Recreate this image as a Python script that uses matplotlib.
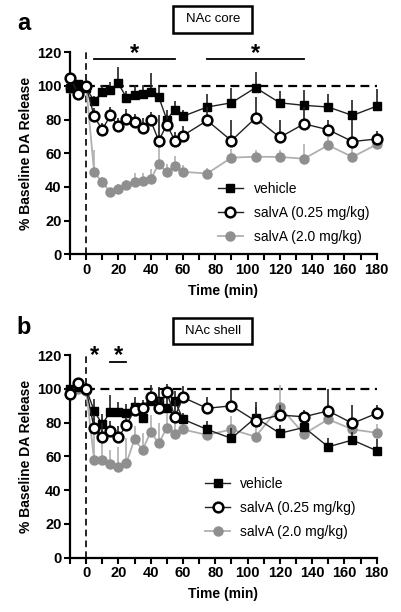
import numpy as np
import matplotlib
matplotlib.use("Agg")
import matplotlib.pyplot as plt
from matplotlib.patches import Rectangle

plt.rcParams["font.family"] = ["Liberation Sans", "DejaVu Sans"]

time = [-10, -5, 0, 5, 10, 15, 20, 25, 30, 35, 40, 45, 50, 55, 60,
        75, 90, 105, 120, 135, 150, 165, 180]
labels = ["vehicle", "salvA (0.25 mg/kg)", "salvA (2.0 mg/kg)"]

# panel a, NAc core
core_veh = [99, 101, 99, 91, 96.5, 97.5, 101.5, 93, 94.5, 95.5, 96.5, 93.5, 80, 86, 82,
            87.5, 90, 99, 90, 88.5, 87.5, 82.5, 88]
core_veh_sem = [0, 2, 0, 3, 4, 5, 10, 4, 6, 5, 11, 6, 6, 5, 4,
                8, 9, 9.5, 7, 9, 8, 9, 10]
core_low = [105, 95.5, 100, 82, 74, 82.5, 76, 80.5, 78.5, 75, 79.5, 67.5, 77, 67.5, 70.5,
            79.5, 67.5, 81, 69.5, 77.5, 74, 67, 68.5]
core_low_sem = [0, 0, 0, 5, 4, 5, 5, 6, 5, 6, 5, 15, 6, 5, 6,
                8, 12, 12.5, 10, 10, 6, 12.5, 5]
core_high = [99, 99, 100, 48.7, 42.8, 37, 38.5, 41, 43.2, 43.5, 44.5, 53.7, 48.7, 52.3, 49,
             48, 57.4, 58, 57.8, 56.8, 64.8, 57.8, 65.3]
core_high_sem = [0, 0, 0, 13, 3, 2, 3, 3, 5, 5, 6, 10, 5, 6, 4,
                 3, 5, 4, 4, 9, 5, 7, 5]

# panel b, NAc shell
shell_veh = [100, 101, 100, 87, 79, 86.5, 86.5, 86, 89, 82.5, 93, 93, 88.5, 93, 82,
             76, 70.7, 83, 73.7, 77.2, 65.7, 69.7, 63.4]
shell_veh_sem = [0, 0, 0, 7, 6, 10, 6, 5, 6, 6, 5, 8, 6, 6, 4,
                 5, 6, 9, 5, 5, 5, 5, 7]
shell_low = [97, 103.4, 100, 76.6, 71.7, 75, 71.3, 78.6, 87.5, 88.5, 95.5, 88.5, 98, 83.5, 95,
             88.5, 90, 81, 84.5, 83.5, 87, 79.6, 85.5]
shell_low_sem = [0, 0, 0, 8, 8, 6, 7, 5, 5, 5, 7, 6, 5, 10, 7,
                 7, 10, 8, 6, 4, 13, 11, 5]
shell_high = [99, 100, 99, 58, 58, 55.7, 53.8, 56, 70.3, 63.8, 74.7, 67.7, 77, 73.3, 76,
              72.7, 76, 71.7, 89.5, 73.3, 82, 76, 74]
shell_high_sem = [0, 0, 0, 25, 20, 8, 12, 15, 8, 10, 10, 12, 10, 10, 8,
                  5, 8, 8, 13, 5, 5, 5, 5]

fig = plt.figure(figsize=(4.02, 6.12), dpi=100)
ax_a = fig.add_axes([0.174, 0.5845, 0.763, 0.330])
ax_b = fig.add_axes([0.174, 0.0887, 0.763, 0.331])

GRAY_M = "#8f8f8f"
GRAY_L = "#b0b0b0"


def draw_panel(ax, veh, veh_sem, low, low_sem, high, high_sem):
    z = np.zeros(len(time))
    eb_high = ax.errorbar(time, high, yerr=[z, high_sem], color=GRAY_L, ecolor=GRAY_L,
                          elinewidth=1.2, capsize=0, lw=1.3, marker="o", ms=6.5,
                          mfc=GRAY_M, mec=GRAY_M, clip_on=False, zorder=3)
    eb_veh = ax.errorbar(time, veh, yerr=[z, veh_sem], color="#222222", ecolor="#222222",
                         elinewidth=1.2, capsize=0, lw=1.0, marker="s", ms=6,
                         mfc="black", mec="black", clip_on=False, zorder=4)
    eb_low = ax.errorbar(time, low, yerr=[z, low_sem], color="#222222", ecolor="#222222",
                         elinewidth=1.2, capsize=0, lw=1.0, marker="o", ms=7,
                         mfc="white", mec="black", mew=1.8, clip_on=False, zorder=5)

    ax.plot([0, 180], [100, 100], color="black", lw=1.6, ls=(0, (4, 2.5)), zorder=2)
    ax.plot([0, 0], [0, 120], color="black", lw=1.2, ls=(0, (4, 2.5)), zorder=2)

    ax.set_xlim(-10, 180)
    ax.set_ylim(0, 120)
    ax.set_xticks(range(0, 181, 20))
    ax.set_xticks(range(-10, 181, 10), minor=True)
    ax.set_yticks(range(0, 121, 20))
    for s in ["top", "right"]:
        ax.spines[s].set_visible(False)
    for s in ["left", "bottom"]:
        ax.spines[s].set_linewidth(1.6)
    ax.tick_params(which="both", direction="out", width=1.5, length=4)
    ax.tick_params(labelsize=10.5, pad=2)
    for t in ax.get_xticklabels() + ax.get_yticklabels():
        t.set_fontweight("bold")
    ax.set_xlabel("Time (min)", fontsize=10, fontweight="bold", labelpad=5)
    ax.set_ylabel("% Baseline DA Release", fontsize=10, fontweight="bold", labelpad=3)

    # legend shows only line + marker, no error bar
    return [eb_veh[0], eb_low[0], eb_high[0]]


h = draw_panel(ax_a, core_veh, core_veh_sem, core_low, core_low_sem, core_high, core_high_sem)
ax_a.legend(h, labels, loc="upper left", bbox_to_anchor=(0.45, 0.405), frameon=False,
            fontsize=10, handlelength=1.8, handletextpad=0.8, labelspacing=0.72,
            borderpad=0.2)
h = draw_panel(ax_b, shell_veh, shell_veh_sem, shell_low, shell_low_sem, shell_high, shell_high_sem)
ax_b.legend(h, labels, loc="upper left", bbox_to_anchor=(0.41, 0.445), frameon=False,
            fontsize=10, handlelength=1.8, handletextpad=0.7, labelspacing=0.72,
            borderpad=0.2)

# significance bars
ax_a.plot([5, 55], [116, 116], color="black", lw=1.3, clip_on=False)
ax_a.plot([75, 135], [116, 116], color="black", lw=1.3, clip_on=False)
ax_a.text(30, 119.5, "*", fontsize=17, fontweight="bold", ha="center", va="center")
ax_a.text(105, 119.5, "*", fontsize=17, fontweight="bold", ha="center", va="center")
ax_b.plot([15, 25], [116, 116], color="black", lw=1.3, clip_on=False)
ax_b.text(5, 119.5, "*", fontsize=17, fontweight="bold", ha="center", va="center")
ax_b.text(20, 119.5, "*", fontsize=17, fontweight="bold", ha="center", va="center")

# region boxes
for y0, txt in [(1 - 32.5 / 612, "NAc core"), (1 - 344 / 612, "NAc shell")]:
    fig.patches.append(Rectangle((173.5 / 402, y0), 78.5 / 402, 26.5 / 612,
                                 transform=fig.transFigure, fill=False,
                                 edgecolor="black", lw=1.8))
    fig.text(212.7 / 402, y0 + 13.2 / 612, txt, fontsize=9.5, ha="center", va="center")

fig.text(24 / 402, 1 - 24 / 612, "a", fontsize=17, fontweight="bold", ha="center", va="center")
fig.text(24 / 402, 1 - 327 / 612, "b", fontsize=17, fontweight="bold", ha="center", va="center")

fig.savefig("out.png", dpi=100)
